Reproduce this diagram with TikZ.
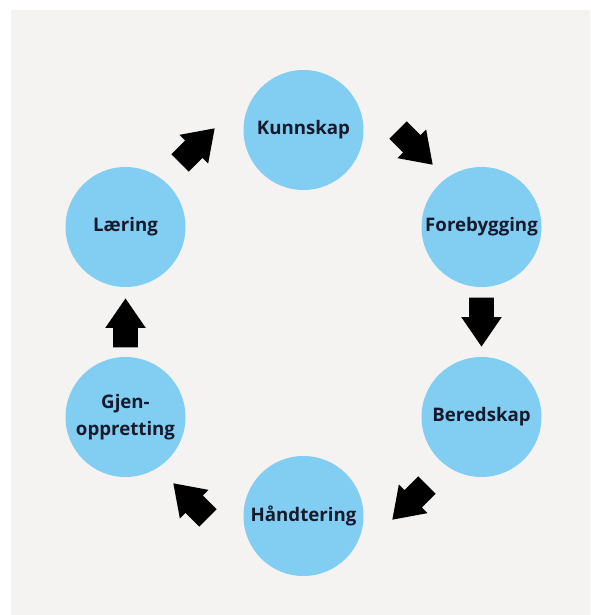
\documentclass[tikz,border=0pt]{standalone}
\usepackage{fontspec}
\setmainfont{Open Sans}
\usetikzlibrary{shapes.arrows}
\definecolor{bgcol}{RGB}{244,243,241}
\definecolor{ballcol}{RGB}{130,206,242}
\definecolor{txtcol}{RGB}{22,26,44}
\tikzset{
  phase/.style= {circle, fill=ballcol, minimum size=90pt, inner sep=0, text=txtcol, align=center, font=\bfseries\fontsize{14}{20.5}\selectfont},
  cyclearrow/.style= {single arrow, fill=black, minimum height=36.75pt, minimum width=30pt, single arrow head extend=6pt, single arrow tip angle=69, inner xsep=0, inner ysep=9pt, anchor=tip},
}

\begin{document}
\begin{tikzpicture}[x=0.75pt, y=-0.75pt]
  \useasboundingbox (0,0) rectangle (590,615);
  \fill[white] (0,0) rectangle (590,615);
  \fill[bgcol] (11,10) rectangle (590,615);

  \node [phase] (kunnskap) at (303.5,130) {Kunnskap} ;
  \node [phase] (forebygging) at (481.5,227) {Forebygging} ;
  \node [phase] (beredskap) at (481.5,417) {Beredskap} ;
  \node [phase] (handtering) at (303.5,516) {Håndtering} ;
  \node [phase] (gjenoppretting) at (125.5,417) {Gjen-\\oppretting} ;
  \node [phase] (laering) at (125.5,227) {Læring} ;

  % arrows placed by their tips
  \node [cyclearrow, rotate=-45] (a1) at (433,165) {} ;
  \node [cyclearrow, rotate=-90] (a2) at (481.5,347) {} ;
  \node [cyclearrow, rotate=-135] (a3) at (392,520) {} ;
  \node [cyclearrow, rotate=135] (a4) at (173,483) {} ;
  \node [cyclearrow, rotate=90] (a5) at (125.5,298) {} ;
  \node [cyclearrow, rotate=45] (a6) at (215,128) {} ;
\end{tikzpicture}
\end{document}
